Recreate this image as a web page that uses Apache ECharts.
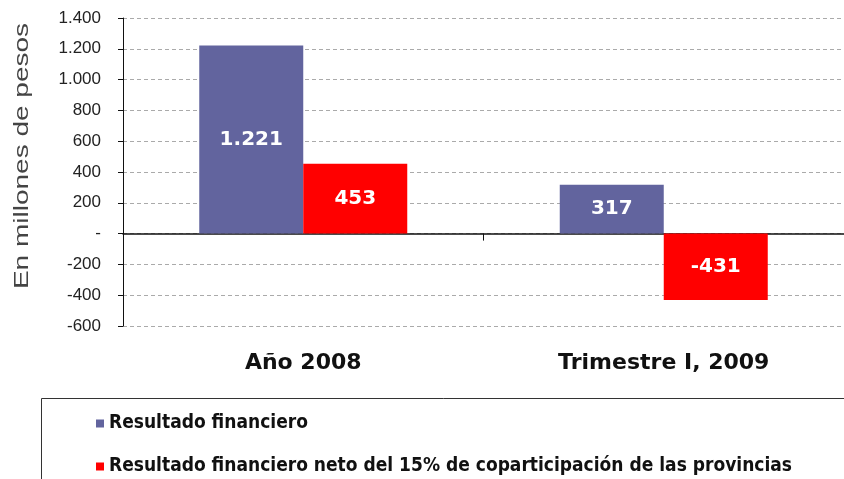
<!DOCTYPE html>
<html>
<head>
<meta charset="utf-8">
<script src="https://cdn.jsdelivr.net/npm/echarts@6/dist/echarts.min.js"></script>
<style>
  html, body { margin: 0; padding: 0; background: #fff; }
  #chart { width: 844px; height: 479px; }
</style>
</head>
<body>
<div id="chart"></div>
<script>
// categorias del eje x
var categories = ['Año 2008', 'Trimestre I, 2009']
// series
var resultadoFinanciero = [1221, 317]
var resultadoNeto = [453, -431]
var seriesNames = ['Resultado financiero', 'Resultado financiero neto del 15% de coparticipación de las provincias']
// eje y
var yMin = -600
var yMax = 1400
var yStep = 200

// formato con punto de miles
function fmt (v) {
  if (v === 0) return '-'
  var s = String(Math.abs(v)).replace(/\B(?=(\d{3})+(?!\d))/g, '.')
  return (v < 0 ? '-' : '') + s
}

var barLabel = {
  show: true,
  position: 'inside',
  color: '#fff',
  fontFamily: 'DejaVu Sans',
  fontWeight: 'bold',
  fontSize: 20,
  formatter: function (p) { return fmt(p.value) }
}

var legendText = {
  color: '#111',
  fontFamily: 'DejaVu Sans Condensed, Liberation Sans Narrow, sans-serif',
  fontWeight: 'bold',
  fontSize: 19
}

// una leyenda por serie para fijar la posicion de cada fila
function makeLegend (name, top) {
  return {
    orient: 'vertical',
    left: 96,
    top: top,
    padding: 0,
    itemWidth: 8,
    itemHeight: 8,
    icon: 'rect',
    selectedMode: false,
    textStyle: legendText,
    data: [name]
  }
}

var myChart = echarts.init(document.getElementById('chart'))
var option = {
  animation: false,
  color: ['#62649e', '#ff0000'],
  grid: { left: 123, right: -2, top: 18, bottom: 153 },
  legend: [
    makeLegend(seriesNames[0], 414),
    makeLegend(seriesNames[1], 457)
  ],
  graphic: [
    {
      type: 'rect',
      shape: { x: 41.5, y: 398.5, width: 840, height: 120 },
      style: { fill: 'none', stroke: '#333', lineWidth: 1 },
      z: -1
    },
    {
      type: 'text',
      x: 22,
      y: 156,
      rotation: Math.PI / 2,
      scaleX: 1.4,
      style: {
        text: 'En millones de pesos',
        fill: '#444',
        font: '20px "Liberation Sans", Arial, sans-serif',
        align: 'center',
        verticalAlign: 'middle'
      }
    }
  ],
  xAxis: [
    {
      type: 'category',
      data: categories,
      axisLine: { onZero: true, lineStyle: { color: '#111', width: 1.5 } },
      axisTick: { show: true, length: 7, lineStyle: { color: '#111' } },
      axisLabel: { show: false }
    },
    {
      type: 'category',
      data: categories,
      position: 'bottom',
      axisLine: { show: false, onZero: false },
      axisTick: { show: false },
      axisLabel: {
        margin: 26,
        color: '#111',
        fontFamily: 'DejaVu Sans',
        fontWeight: 'bold',
        fontSize: 22
      }
    }
  ],
  yAxis: {
    type: 'value',
    min: yMin,
    max: yMax,
    interval: yStep,
    axisLine: { show: true, lineStyle: { color: '#111' } },
    axisTick: { show: true, length: 5, lineStyle: { color: '#111' } },
    axisLabel: {
      margin: 22,
      color: '#222',
      fontFamily: 'Liberation Sans',
      fontSize: 17,
      formatter: fmt
    },
    splitLine: { show: true, lineStyle: { color: '#aaa', type: [4, 3] } }
  },
  series: [
    {
      name: seriesNames[0],
      type: 'bar',
      barWidth: 104,
      barGap: '0%',
      label: barLabel,
      data: resultadoFinanciero
    },
    {
      name: seriesNames[1],
      type: 'bar',
      barWidth: 104,
      barGap: '0%',
      label: barLabel,
      data: resultadoNeto
    }
  ]
}
myChart.setOption(option)
</script>
</body>
</html>
